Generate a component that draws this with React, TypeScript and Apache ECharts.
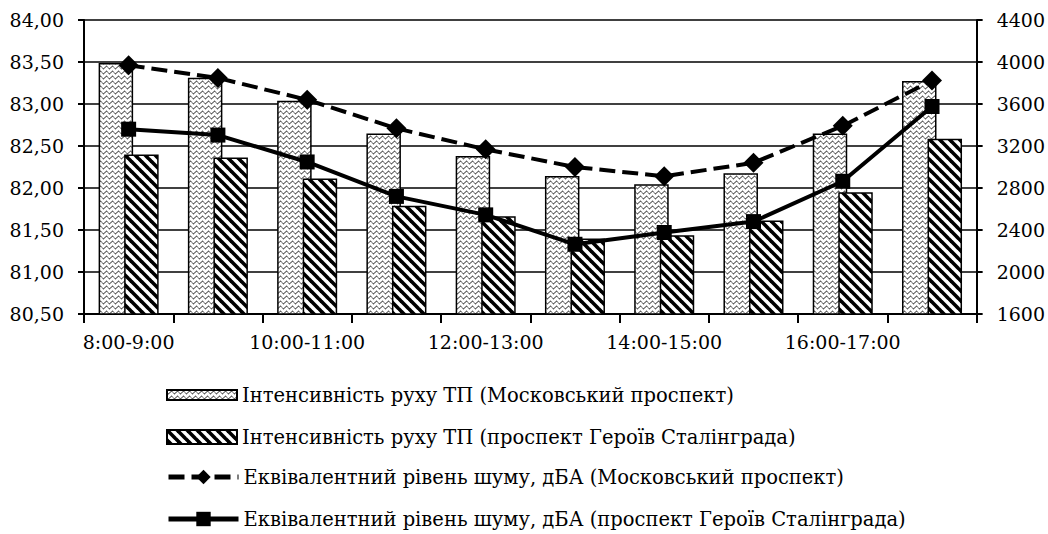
import React, { useEffect, useRef } from "react";
import * as echarts from "echarts";

const categories = [
  "8:00-9:00", "9:00-10:00", "10:00-11:00", "11:00-12:00", "12:00-13:00",
  "13:00-14:00", "14:00-15:00", "15:00-16:00", "16:00-17:00", "17:00-18:00",
];
const trafficMoskovsky = [3990, 3850, 3630, 3320, 3105, 2915, 2835, 2940, 3320, 3820];
const trafficHeroiv = [3120, 3090, 2890, 2630, 2530, 2320, 2350, 2490, 2760, 3270];
const noiseMoskovsky = [83.46, 83.31, 83.05, 82.71, 82.46, 82.25, 82.14, 82.3, 82.74, 83.28];
const noiseHeroiv = [82.7, 82.63, 82.31, 81.9, 81.68, 81.33, 81.47, 81.6, 82.08, 82.97];

const seriesNames = [
  "Інтенсивність руху ТП (Московський проспект)",
  "Інтенсивність руху ТП (проспект Героїв Сталінграда)",
  "Еквівалентний рівень шуму, дБА (Московський проспект)",
  "Еквівалентний рівень шуму, дБА (проспект Героїв Сталінграда)",
];

const FONT = "DejaVu Serif";

function wavePattern() {
  const w = 6, h = 5;
  const c = document.createElement("canvas");
  c.width = w; c.height = h;
  const ctx = c.getContext("2d")!;
  ctx.fillStyle = "#fff";
  ctx.fillRect(0, 0, w, h);
  ctx.strokeStyle = "#000";
  ctx.lineWidth = 1;
  ctx.beginPath();
  for (let i = 0; i <= 24; i++) {
    const x = (i / 24) * w;
    const y = 2.5 + 1.3 * Math.sin((2 * Math.PI * x) / w);
    if (i === 0) ctx.moveTo(x, y); else ctx.lineTo(x, y);
  }
  ctx.stroke();
  return { image: c, repeat: "repeat", imageWidth: w, imageHeight: h };
}

function stripePattern() {
  const s = 10;
  const c = document.createElement("canvas");
  c.width = s; c.height = s;
  const ctx = c.getContext("2d")!;
  ctx.fillStyle = "#fff";
  ctx.fillRect(0, 0, s, s);
  ctx.strokeStyle = "#000";
  ctx.lineWidth = 3.6;
  for (const o of [-s, 0, s]) {
    ctx.beginPath();
    ctx.moveTo(o - 1, -1);
    ctx.lineTo(o + s + 1, s + 1);
    ctx.stroke();
  }
  return { image: c, repeat: "repeat", imageWidth: s, imageHeight: s };
}

export default function App() {
  const ref = useRef<HTMLDivElement>(null);
  useEffect(() => {
    if (!ref.current) return;
    const chart = echarts.init(ref.current, null, { renderer: "svg" });
    const wave = wavePattern();
    const stripes = stripePattern();
    const axisText = { color: "#000", fontFamily: FONT, fontSize: 19 };
    const legendTops = [385, 427, 469, 511];
    const mkLegend = (i: number, extra: any) => ({
      orient: "vertical",
      left: 166,
      top: legendTops[i],
      padding: 0,
      itemWidth: 70,
      textStyle: { color: "#000", fontFamily: FONT, fontSize: 19.5 },
      data: [{ name: seriesNames[i], ...extra }],
    });
    chart.setOption({
      animation: false,
      backgroundColor: "#fff",
      textStyle: { fontFamily: FONT },
      grid: { left: 84, right: 69, top: 20, bottom: 220, containLabel: false },
      legend: [
        { ...mkLegend(0, { icon: "rect" }), itemHeight: 10 },
        { ...mkLegend(1, { icon: "rect" }), itemHeight: 14 },
        { ...mkLegend(2, {}), top: legendTops[2] - 2, itemHeight: 18, lineStyle: { width: 5 } },
        { ...mkLegend(3, {}), top: legendTops[3] - 2, itemHeight: 18, lineStyle: { width: 5 } },
      ],
      xAxis: {
        type: "category",
        data: categories,
        boundaryGap: true,
        axisLine: { lineStyle: { color: "#000", width: 2 } },
        axisTick: { show: true, interval: 0, length: 9, lineStyle: { color: "#000", width: 2 } },
        axisLabel: { ...axisText, interval: 1, margin: 18 },
        splitLine: { show: false },
      },
      yAxis: [
        {
          type: "value",
          min: 80.5,
          max: 84,
          interval: 0.5,
          position: "left",
          axisLine: { show: true, lineStyle: { color: "#000", width: 2 } },
          axisTick: { show: true, length: 6, lineStyle: { color: "#000", width: 2 } },
          axisLabel: {
            ...axisText,
            margin: 20,
            formatter: (v: number) => v.toFixed(2).replace(".", ","),
          },
          splitLine: { show: true, lineStyle: { color: "#000", width: 1.5 } },
        },
        {
          type: "value",
          min: 1600,
          max: 4400,
          interval: 400,
          position: "right",
          axisLine: { show: true, lineStyle: { color: "#000", width: 2 } },
          axisTick: { show: true, length: 6, lineStyle: { color: "#000", width: 2 } },
          axisLabel: { ...axisText, margin: 20, formatter: (v: number) => String(v) },
          splitLine: { show: false },
        },
      ],
      series: [
        {
          name: seriesNames[0],
          type: "bar",
          yAxisIndex: 1,
          data: trafficMoskovsky,
          barWidth: 34.5,
          barGap: "-26%",
          itemStyle: { color: wave, borderColor: "#000", borderWidth: 1.5 },
        },
        {
          name: seriesNames[1],
          type: "bar",
          yAxisIndex: 1,
          data: trafficHeroiv,
          barWidth: 34.5,
          barGap: "-26%",
          itemStyle: { color: stripes, borderColor: "#000", borderWidth: 1.5 },
        },
        {
          name: seriesNames[2],
          type: "line",
          yAxisIndex: 0,
          data: noiseMoskovsky,
          symbol: "diamond",
          symbolSize: 20,
          itemStyle: { color: "#000" },
          lineStyle: { color: "#000", width: 4, type: [16, 7] },
          z: 5,
        },
        {
          name: seriesNames[3],
          type: "line",
          yAxisIndex: 0,
          data: noiseHeroiv,
          symbol: "rect",
          symbolSize: 15,
          itemStyle: { color: "#000" },
          lineStyle: { color: "#000", width: 4, type: "solid" },
          z: 5,
        },
      ],
    });
    return () => chart.dispose();
  }, []);
  return (
    <div
      ref={ref}
      style={{ position: "fixed", left: 0, top: 0, width: 1048, height: 534, background: "#fff" }}
    />
  );
}
